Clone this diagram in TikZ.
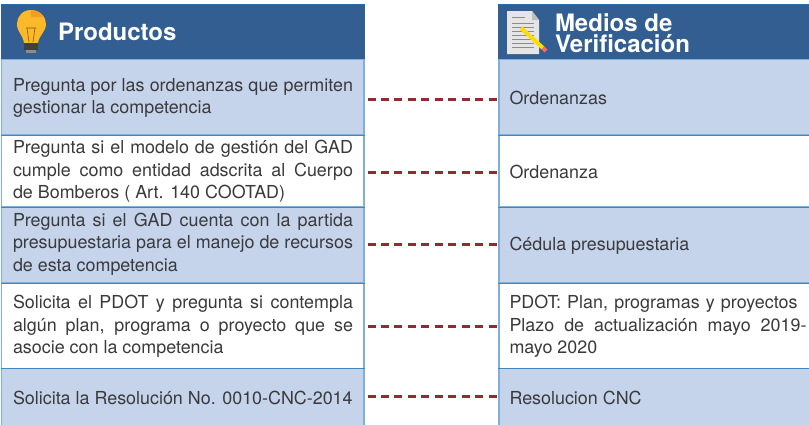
\documentclass[tikz,border=0pt]{standalone}
\usepackage{fontspec}
\setmainfont{TeX Gyre Heros}
\definecolor{hdr}{HTML}{335E92}
\definecolor{cell}{HTML}{C5D3EB}
\definecolor{edge}{HTML}{7FB0DC}
\definecolor{hedge}{HTML}{1F6CB0}
\definecolor{rule}{HTML}{3F86C4}
\definecolor{link}{HTML}{8E2B33}
\definecolor{txt}{HTML}{3A3A3C}
\definecolor{bulbA}{HTML}{FBB829}
\definecolor{bulbB}{HTML}{F39C1F}
\newcommand{\jl}[1]{\makebox[340pt][s]{#1}}
\newcommand{\jr}[1]{\makebox[297pt][s]{#1}}
\tikzset{x=1pt,y=-1pt,
 every node/.style={inner sep=0,outer sep=0},
 bluecell/.style={fill=cell,draw=edge,line width=1.5pt},
 whitecell/.style={fill=white,draw=edge,line width=1.5pt},
 rowrule/.style={draw=rule,line width=1pt},
 label/.style={anchor=west,align=left,text=txt,font=\fontsize{17.9}{22.6}\selectfont},
 title/.style={anchor=west,align=left,text=white,font=\bfseries\fontsize{24}{20.5}\selectfont},
 linkline/.style={draw=link,line width=2.5pt,dash pattern=on 8pt off 5.45pt}}
\begin{document}
\begin{tikzpicture}
\useasboundingbox (0,0) rectangle (809,424);
% left column
\draw[bluecell] (1.5,59) rectangle (364,135);
\draw[whitecell] (1.5,135) rectangle (364,207);
\draw[bluecell] (1.5,207) rectangle (364,283);
\draw[whitecell] (1.5,283) rectangle (364,368.5);
\draw[bluecell] (1.5,368.5) rectangle (364,426);
% right column
\draw[bluecell] (499,59) rectangle (812,135);
\draw[whitecell] (499,135) rectangle (812,207);
\draw[bluecell] (499,207) rectangle (812,283);
\draw[whitecell] (499,283) rectangle (812,368.5);
\draw[bluecell] (499,368.5) rectangle (812,426);
% row rules
\foreach \yy in {135,207,283,368.5} {
  \draw[rowrule] (1,\yy) -- (364.7,\yy);
  \draw[rowrule] (498.3,\yy) -- (809,\yy);
}
% headers
\fill[hdr] (1,4) rectangle (364.7,59);
\fill[hdr] (498.3,4) rectangle (809,59);
\draw[hedge,line width=1pt] (1,4.5) -- (364.7,4.5);
\draw[hedge,line width=1pt] (498.3,4.5) -- (809,4.5);
% bulb
\fill[bulbA] (31,10) .. controls (22,10) and (17,17) .. (17,24) .. controls (17,32) and (23,35) .. (24,43) -- (38,43) .. controls (39,35) and (46,32) .. (46,24) .. controls (46,17) and (40,10) .. (31,10) -- cycle;
\fill[bulbB] (31,10) .. controls (36,10) and (41,13) .. (43,17) -- (31,17) -- cycle;
\draw[black!45!bulbB,line width=.6pt] (27,28) -- (29,42) (35,28) -- (33,42) (26,28) -- (36,28);
\fill[black!75] (24,43) rectangle (38,50);
\fill[black!45] (26,50) rectangle (36,53);
% doc
\fill[black!10] (507,11) -- (532,11) -- (539,20) -- (539,54) -- (507,54) -- cycle;
\fill[black!25] (532,11) -- (539,20) -- (532,20) -- cycle;
\foreach \yy in {17} \draw[black!45,line width=.8pt] (512,\yy) -- (525,\yy);
\foreach \yy in {23,27,31,35,39,43,47} \draw[black!45,line width=.8pt] (512,\yy) -- (534,\yy);
\draw[yellow!80!orange,line width=4pt] (521,28) -- (543,48);
\draw[red!60,line width=4pt] (543,48) -- (546,51);
% text
\node[title] (t1) at (58,32) {Productos};
\node[title] (t2) at (555,33) {Medios de\\Verificación};
\node[label] (l1) at (13,98) {\jl{Pregunta por las ordenanzas que permiten}\\gestionar la competencia};
\node[label] (l2) at (13,171.5) {\jl{Pregunta si el modelo de gestión del GAD}\\\jl{cumple como entidad adscrita al Cuerpo}\\de Bomberos ( Art. 140 COOTAD)};
\node[label] (l3) at (13,244) {\jl{Pregunta si el GAD cuenta con la partida}\\\jl{presupuestaria para el manejo de recursos}\\de esta competencia};
\node[label] (l4) at (13,326.5) {\jl{Solicita el PDOT y pregunta si contempla}\\\jl{algún plan, programa o proyecto que se}\\asocie con la competencia};
\node[label] (l5) at (13,398) {Solicita la Resolución No. 0010-CNC-2014};
\node[label] (r1) at (509.5,98) {Ordenanzas};
\node[label] (r2) at (509.5,172) {Ordenanza};
\node[label] (r3) at (509.5,245.5) {Cédula presupuestaria};
\node[label] (r4) at (509.5,326.5) {\makebox[288pt][s]{PDOT: Plan, programas y proyectos}\\\jr{Plazo de actualización mayo 2019-}\\mayo 2020};
\node[label] (r5) at (509.5,398) {Resolucion CNC};
% links
\coordinate (a1) at (367.5,99.3); \coordinate (b1) at (497.5,99.3);
\coordinate (a2) at (367.5,172.3); \coordinate (b2) at (497.5,172.3);
\coordinate (a3) at (367.5,244.7); \coordinate (b3) at (497.5,244.7);
\coordinate (a4) at (367.5,326.3); \coordinate (b4) at (497.5,326.3);
\coordinate (a5) at (367.5,396.3); \coordinate (b5) at (497.5,396.3);
\draw[linkline] (a1) -- (b1);
\draw[linkline] (a2) -- (b2);
\draw[linkline] (a3) -- (b3);
\draw[linkline] (a4) -- (b4);
\draw[linkline] (a5) -- (b5);
\end{tikzpicture}
\end{document}
